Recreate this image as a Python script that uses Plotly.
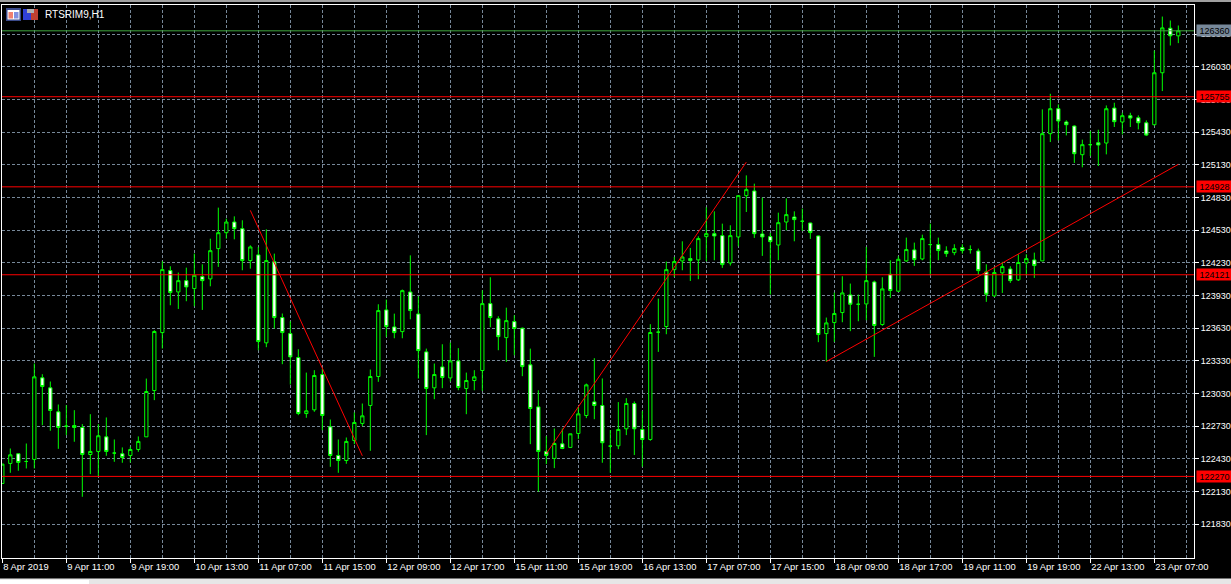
import plotly.graph_objects as go

opens = [122205,122389,122478,122407,122426,123175,123083,122863,122731,122737,122719,122471,122499,122633,122484,122478,122462,122517,122633,123058,
123590,124159,123963,124067,123994,124104,124083,124361,124507,124605,124544,124251,124303,123496,124241,123728,123581,123361,122847,122881,
123205,122725,122462,122416,122600,122756,122921,123187,123798,123642,123599,123963,123761,123413,123083,123275,123174,123330,123077,123150,
123242,123856,123716,123544,123691,123630,123294,122908,122499,122435,122569,122536,122664,122829,122954,122921,122548,122551,122707,122939,
122701,122609,123594,123646,124168,124248,124269,124257,124471,124498,124480,124229,124468,124847,124890,124495,124471,124394,124605,124651,
124612,124596,124477,123581,123682,123774,123936,123850,123853,124055,123664,124125,123970,124248,124349,124266,124398,124398,124339,124324,
124370,124352,124339,124147,123927,124138,124174,124074,124229,124257,124248,125416,125645,125523,125486,125223,125315,125333,125330,125651,
125523,125581,125562,125516,125498,125975,126384,126314]
highs = [122383,122526,122478,122572,123306,123208,123141,122930,122924,122878,122750,122841,122750,122811,122609,122536,122542,122637,123168,123612,
124245,124199,124141,124186,124315,124217,124452,124737,124636,124657,124621,124391,124376,124538,124315,123765,123694,123437,123223,123245,
123260,122792,122609,122627,122857,122939,123251,123850,123893,123764,123985,124299,123923,123443,123306,123483,123498,123447,123223,123245,
123978,124098,123740,123819,123749,123636,123443,123061,122639,122710,122710,122661,122908,123122,123355,123169,122695,122952,122988,122958,
122869,123667,123902,124242,124284,124428,124367,124474,124740,124703,124590,124575,124850,125033,124957,124829,124505,124691,124822,124703,
124728,124599,124480,123728,123957,124107,124040,123939,124376,124067,124098,124254,124291,124462,124416,124489,124590,124462,124382,124401,
124401,124391,124361,124217,124193,124239,124199,124309,124309,124324,125639,125782,125685,125538,125492,125361,125440,125452,125675,125700,
125608,125608,125584,125538,126179,126491,126455,126409]
lows = [122205,122303,122322,122343,122343,122740,122689,122523,122649,122588,122083,122291,122273,122459,122404,122395,122398,122496,122633,122970,
123444,123841,123807,123878,123832,123798,124015,124193,124452,124446,124162,124177,123428,123456,123627,123300,123113,122832,122808,122863,
122694,122358,122303,122386,122566,122731,122505,123138,123550,123538,123538,123712,123168,122649,122979,123080,123141,123061,122841,123061,
123055,123639,123428,123321,123382,123190,122566,122129,122383,122346,122520,122536,122612,122805,122795,122395,122303,122520,122649,122466,
122359,122597,123413,123575,124101,124162,124064,124080,124245,124254,124184,124205,124382,124697,124459,124294,123939,124254,124529,124428,
124523,124450,123502,123324,123505,123685,123603,123694,123704,123367,123652,123908,123965,124239,124202,124254,124116,124254,124285,124300,
124315,124315,124122,123872,123918,123954,124046,124064,124116,124092,124248,125339,125354,125400,125147,125107,125211,125119,125226,125477,
125409,125477,125455,125394,125492,125807,126225,126247]
closes = [122383,122468,122398,122407,123184,123095,122875,122719,122731,122719,122471,122499,122643,122499,122484,122444,122517,122591,123049,123600,
124168,123957,124067,124009,124116,124067,124342,124507,124605,124544,124251,124376,123508,124251,123728,123590,123367,122847,122872,123196,
122829,122462,122416,122591,122765,122826,123187,123792,123645,123590,123975,123792,123425,123077,123205,123178,123330,123086,123150,123184,
123856,123728,123553,123700,123627,123278,122893,122499,122462,122572,122526,122661,122844,123110,122921,122579,122548,122701,122939,122707,
122609,123591,123594,124168,124242,124284,124251,124453,124498,124477,124214,124480,124847,124902,124498,124468,124425,124599,124673,124627,
124612,124508,123572,123679,123765,123954,123850,123850,124067,123655,123991,123976,124263,124352,124260,124453,124398,124343,124315,124361,
124343,124352,124159,123942,124141,124196,124067,124233,124269,124205,125416,125645,125532,125498,125232,125315,125315,125312,125645,125526,
125581,125559,125516,125403,125975,126387,126314,126360]
time_labels = ["8 Apr 2019","9 Apr 11:00","9 Apr 19:00","10 Apr 13:00","11 Apr 07:00","11 Apr 15:00","12 Apr 09:00","12 Apr 17:00",
"15 Apr 11:00","15 Apr 19:00","16 Apr 13:00","17 Apr 07:00","17 Apr 15:00","18 Apr 09:00","18 Apr 17:00","19 Apr 11:00",
"19 Apr 19:00","22 Apr 13:00","23 Apr 07:00"]
price_ticks = [121830,122130,122430,122730,123030,123330,123630,123930,124230,124530,124830,125130,125430,125730,126030,126330]
level_values = [125755,124928,124121,122270]
current_price = 126360
symbol_title = "RTSRIM9,H1"
trend_bars = [[31,45],[68,93],[103,147]]
trend_prices = [[124712,122459],[122480,125155],[123324,125134]]

W, H = 1231, 584
L, R, T, B = 2, 37, 5, 26
bars = list(range(len(opens)))
GRID = "#778899"
FONT = "Liberation Sans"

def px(x): return (x - L) / (W - L - R)
def py(y): return 1 - (y - T) / (H - T - B)

fig = go.Figure()
fig.add_trace(go.Candlestick(
    x=bars, open=opens, high=highs, low=lows, close=closes,
    increasing=dict(line=dict(color="#00ff00", width=1), fillcolor="#000000"),
    decreasing=dict(line=dict(color="#00ff00", width=1), fillcolor="#ffffff"),
    whiskerwidth=0, showlegend=False, hoverinfo="skip"))
for xs, ys in zip(trend_bars, trend_prices):
    fig.add_trace(go.Scatter(x=xs, y=ys, mode="lines", line=dict(color="#ff0000", width=1),
                             showlegend=False, hoverinfo="skip"))

shapes = []
for v in level_values:
    shapes.append(dict(type="line", xref="paper", x0=0, x1=1, yref="y", y0=v, y1=v,
                       line=dict(color="#ff0000", width=1), layer="above"))
shapes.append(dict(type="line", xref="paper", x0=0, x1=1, yref="y", y0=current_price, y1=current_price,
                   line=dict(color="#3fa83f", width=1), layer="above"))

def rect(x0, y0, x1, y1, color):
    shapes.append(dict(type="rect", xref="paper", yref="paper", x0=px(x0), x1=px(x1), y0=py(y0), y1=py(y1),
                       fillcolor=color, line=dict(width=0), layer="above"))
# window chrome
rect(0, 0, W, 2, "#a0a0a0")
rect(0, 578.5, W, 584, "#e6e6e6")
rect(0, 580, 89, 584, "#ffffff")
# toolbar icons
rect(6, 8, 21, 21, "#3a4a8a"); rect(7.5, 10, 19.5, 19.5, "#ffffff")
rect(8.5, 12, 13, 18.5, "#f08070"); rect(14, 12, 18.5, 18.5, "#8090e0")
rect(23, 9, 31, 20, "#3040d8"); rect(31, 9, 38, 20, "#c04030"); rect(27, 9, 34, 13, "#b0b0b0")

annotations = [dict(xref="paper", yref="paper", x=px(43), y=py(14.5), xanchor="left", yanchor="middle",
                    text=symbol_title, showarrow=False, font=dict(family=FONT, size=10, color="#ffffff"))]
for v in level_values + [current_price]:
    annotations.append(dict(xref="paper", yref="y", x=1, y=v, xshift=2, xanchor="left", yanchor="middle",
                            text=str(v), showarrow=False, width=35, height=11, align="center", borderpad=0,
                            bgcolor="#778899" if v == current_price else "#ff0000",
                            font=dict(family=FONT, size=9, color="#000000")))

major = list(range(0, len(time_labels) * 8, 8))
fig.update_layout(
    width=W, height=H, margin=dict(l=L, r=R, t=T, b=B, autoexpand=False),
    paper_bgcolor="#000000", plot_bgcolor="#000000", boxgap=0.42, showlegend=False,
    shapes=shapes, annotations=annotations,
    xaxis=dict(range=[-0.04, 148.96], rangeslider=dict(visible=False), tickmode="array",
               tickvals=major, ticktext=time_labels, ticks="outside", ticklen=4, tickcolor="#ffffff", tickwidth=1,
               tickangle=0, ticklabelposition="outside right", tickfont=dict(family=FONT, size=9.4, color="#ffffff"),
               showgrid=True, gridcolor=GRID, griddash="3px,2px", gridwidth=1,
               minor=dict(tickmode="array", tickvals=[m + 4 for m in major], showgrid=True, gridcolor=GRID,
                          griddash="3px,2px", gridwidth=1, ticks=""),
               showline=True, linecolor="#ffffff", linewidth=1, mirror=True, zeroline=False, automargin=False),
    yaxis=dict(range=[121521, 126597], side="right", tickmode="array", tickvals=price_ticks,
               ticktext=[str(v) for v in price_ticks], ticks="outside", ticklen=4, tickcolor="#ffffff", tickwidth=1,
               tickfont=dict(family=FONT, size=9, color="#ffffff"),
               showgrid=True, gridcolor=GRID, griddash="3px,2px", gridwidth=1,
               showline=True, linecolor="#ffffff", linewidth=1, mirror=True, zeroline=False, automargin=False),
)
fig.write_html("out.html", config={"displayModeBar": False},
               post_script="document.body.style.margin='0';document.body.style.overflow='hidden';document.body.style.background='#000';")
